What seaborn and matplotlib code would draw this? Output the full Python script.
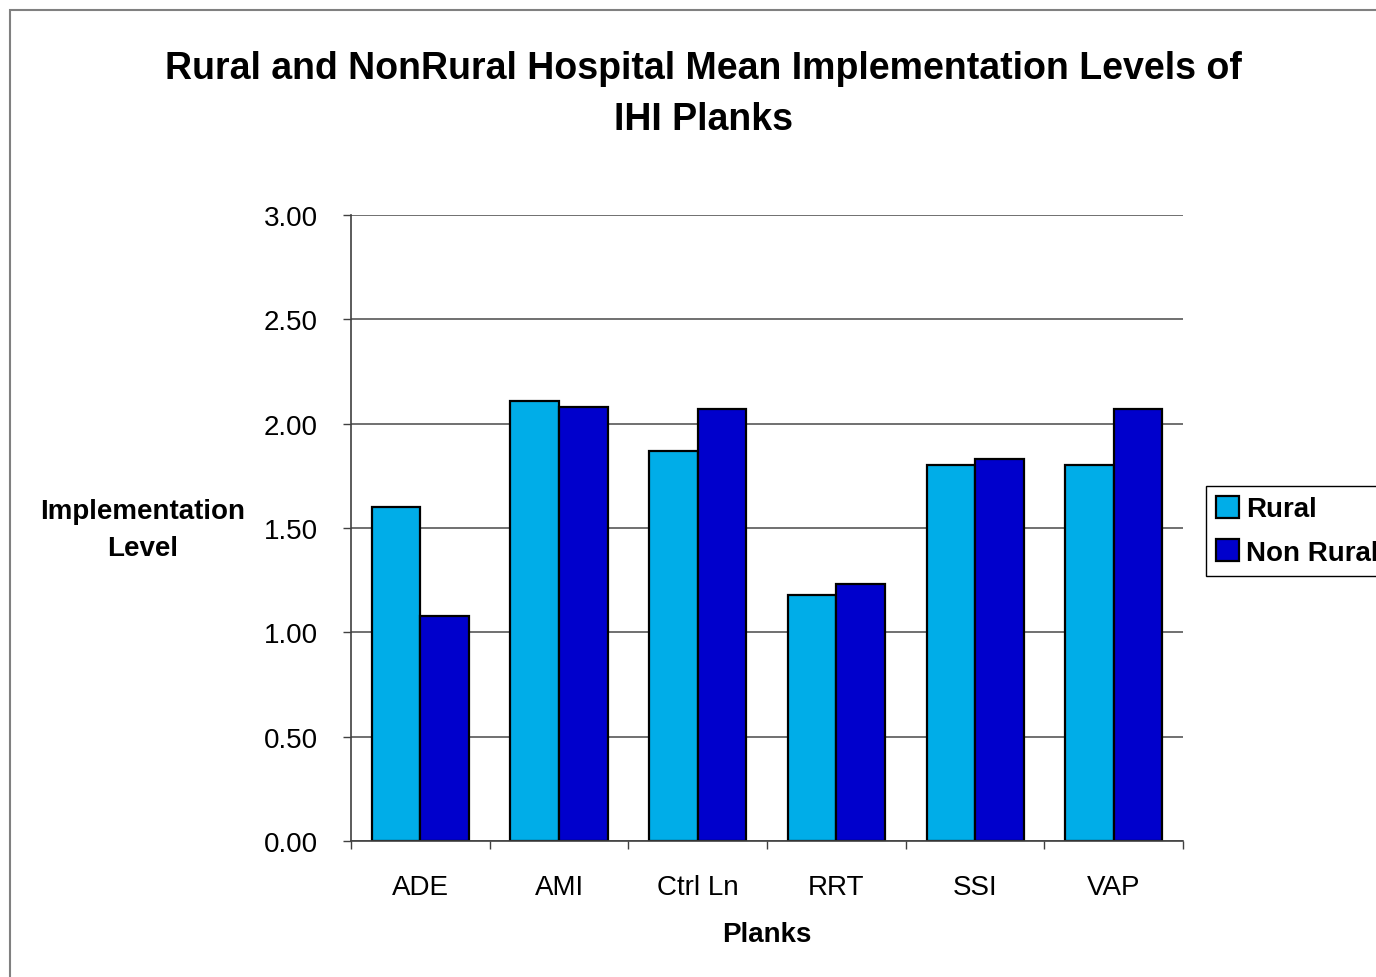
import matplotlib
matplotlib.use("Agg")
import matplotlib.pyplot as plt
from matplotlib.patches import Rectangle
import seaborn as sns
import pandas

"""data"""
planks = ["ADE", "AMI", "Ctrl Ln", "RRT", "SSI", "VAP"]
rural = [1.60, 2.11, 1.87, 1.18, 1.80, 1.80]
non_rural = [1.08, 2.08, 2.07, 1.23, 1.83, 2.07]
groups = ["Rural", "Non Rural"]
colors = ["#00ADE8", "#0000CC"]
yticks = [0.0, 0.5, 1.0, 1.5, 2.0, 2.5, 3.0]

df = pandas.DataFrame({
    "Planks": planks * 2,
    "Level": rural + non_rural,
    "Group": [groups[0]] * len(planks) + [groups[1]] * len(planks),
})

sns.set_style("white")
plt.rcParams["font.family"] = ["Liberation Sans", "DejaVu Sans"]
plt.rcParams["text.color"] = "black"
plt.rcParams["axes.labelcolor"] = "black"
plt.rcParams["xtick.color"] = "black"
plt.rcParams["ytick.color"] = "black"

fig = plt.figure(figsize=(13.76, 9.78), dpi=100)
ax = fig.add_axes([0.2551, 0.1391, 0.6047, 0.6401])

sns.barplot(data=df, x="Planks", y="Level", hue="Group", palette=colors,
            width=0.7, edgecolor="black", linewidth=1.6, ax=ax, saturation=1)

"""axes styling"""
ax.set_ylim(0, 3)
ax.set_xlim(-0.5, len(planks) - 0.5)
ax.set_yticks(yticks)
ax.set_yticklabels(["%.2f" % v for v in yticks], fontsize=20)
ax.yaxis.grid(True, color="#707070", linewidth=1.4)
ax.set_axisbelow(True)
ax.tick_params(axis="y", length=6, width=1, color="#404040", pad=18, left=True)

ax.set_xticks([i - 0.5 for i in range(len(planks) + 1)])
ax.set_xticklabels([""] * (len(planks) + 1))
ax.set_xticks(range(len(planks)), minor=True)
ax.set_xticklabels(planks, minor=True, fontsize=20)
ax.tick_params(axis="x", which="major", length=6, width=1, color="#404040", bottom=True)
ax.tick_params(axis="x", which="minor", length=0, pad=24)

for s in ["top", "right"]:
    ax.spines[s].set_visible(False)
for s in ["left", "bottom"]:
    ax.spines[s].set_color("#404040")
    ax.spines[s].set_linewidth(1.2)

ax.set_ylabel("Implementation\nLevel", fontsize=20, fontweight="bold",
              rotation=0, ha="center", va="center", linespacing=1.55)
ax.yaxis.set_label_coords(-0.251, 0.497)
ax.set_xlabel("Planks", fontsize=20, fontweight="bold", va="center")
ax.xaxis.set_label_coords(0.5, -0.149)

fig.text(703 / 1376, 0.9035,
         "Rural and NonRural Hospital Mean Implementation Levels of\nIHI Planks",
         ha="center", va="center", fontsize=27, fontweight="bold", linespacing=1.55)

"""legend"""
handles, labels = ax.get_legend_handles_labels()
leg = ax.legend(handles, labels, loc="upper left",
                bbox_to_anchor=(1206 / 1376, 1 - 487 / 978),
                bbox_transform=fig.transFigure, fancybox=False,
                edgecolor="black", framealpha=1, borderpad=0.35,
                handlelength=0.85, handleheight=0.85, handletextpad=0.25,
                labelspacing=0.6, borderaxespad=0,
                prop={"size": 20, "weight": "bold"})
leg.get_frame().set_linewidth(1.0)

"""chart border"""
fig.patches.append(Rectangle((10 / 1376, -0.1), 2.0, 1.1 - 11 / 978,
                             transform=fig.transFigure, fill=False,
                             edgecolor="#808080", linewidth=1.5))

fig.savefig("out.png", dpi=100)
